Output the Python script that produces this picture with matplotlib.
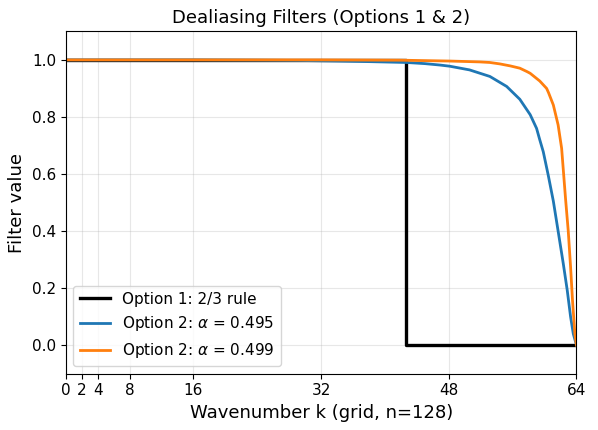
import numpy as np
import matplotlib
matplotlib.use("Agg")
import matplotlib.pyplot as plt

# option 1: sharp 2/3 rule cutoff
k_cut = 2 * 64 / 3
rule_k = [0, k_cut, k_cut, 64]
rule_v = [1.0, 1.0, 0.0, 0.0]

# option 2 filters
k_495 = [0, 8, 16, 24, 29.3, 34, 38, 42.7, 45, 46.9, 48.1, 50.6, 53.15, 55.25,
         56.9, 58.2, 59.0, 59.4, 59.84, 60.46, 61.1, 61.7, 62.34, 62.84, 63.26,
         63.6, 64]
v_495 = [1.0, 1.0, 1.0, 0.999, 0.998, 0.996, 0.994, 0.991, 0.987, 0.982, 0.978,
         0.965, 0.942, 0.907, 0.862, 0.808, 0.76, 0.72, 0.678, 0.596, 0.505, 0.40,
         0.287, 0.193, 0.10, 0.04, 0.0]

k_499 = [0, 16, 32, 42, 48.1, 51.9, 53.15, 54.4, 55.7, 56.9, 57.8, 58.2, 59.4,
         60.26, 60.5, 61.1, 61.7, 62.14, 62.64, 62.97, 63.26, 63.5, 63.8, 64]
v_499 = [1.0, 1.0, 1.0, 0.999, 0.996, 0.993, 0.991, 0.986, 0.979, 0.971, 0.959,
         0.953, 0.926, 0.90, 0.885, 0.842, 0.772, 0.69, 0.51, 0.40, 0.275, 0.158,
         0.04, 0.0]

xticks = [0, 2, 4, 8, 16, 32, 48, 64]

fig = plt.figure(figsize=(5.98, 4.30), dpi=100)
ax = fig.add_axes([0.110, 0.131, 0.854, 0.796])

ax.plot(rule_k, rule_v, color='black', lw=2.4, label='Option 1: 2/3 rule')
ax.plot(k_495, v_495, color='#1f77b4', lw=2, label=r'Option 2: $\alpha$ = 0.495')
ax.plot(k_499, v_499, color='#ff7f0e', lw=2, label=r'Option 2: $\alpha$ = 0.499')

ax.set_xlim(0, 64)
ax.set_ylim(-0.1, 1.1)
ax.set_xticks(xticks)
ax.set_yticks([0.0, 0.2, 0.4, 0.6, 0.8, 1.0])
ax.tick_params(labelsize=11)
ax.grid(True, alpha=0.3)
ax.set_xlabel('Wavenumber k (grid, n=128)', fontsize=13)
ax.set_ylabel('Filter value', fontsize=13)
ax.set_title('Dealiasing Filters (Options 1 & 2)', fontsize=13)
ax.legend(loc='lower left', fontsize=11)

fig.savefig('out.png', dpi=100)
